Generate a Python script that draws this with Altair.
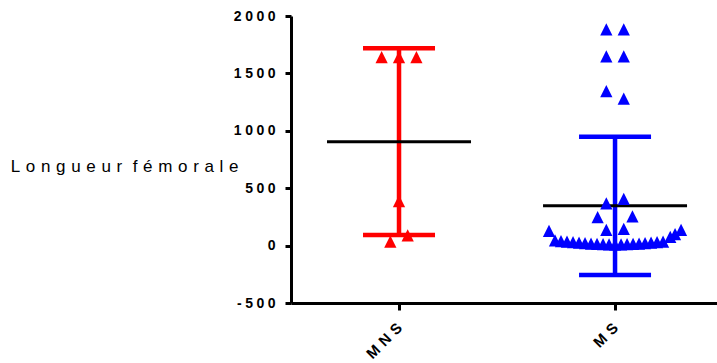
import json

import altair as alt
import pandas as pd

# Groups and their colours
groups = ["MNS", "MS"]
group_colors = ["#ff0000", "#0000ff"]

# Femoral length per subject
mns_values = [1641, 1641, 1641, 387, 34, 90]
ms_values = [
    1884, 1884, 1649, 1649, 1345, 1281,
    406, 368, 249, 255, 136, 146,
    129, 136, 100, 75,
    45, 40, 35, 30, 26, 22, 18, 15, 12, 10,
    8,
    10, 12, 15, 18, 22, 26, 30, 35,
]

# Horizontal swarm offsets of each dot (steps of 1/36 of the gap between columns)
mns_spread = [-2.9, 0, 2.9, 0, -1.45, 1.45]
ms_spread = [
    -1.45, 1.45, -1.45, 1.45, -1.45, 1.45,
    1.45, -1.45, -2.9, 2.9, -1.45, 1.45,
    -11, 11, 10, 9.2,
    -10, -9, -8, -7, -6, -5, -4, -3, -2, -1,
    0,
    1, 2, 3, 4, 5, 6, 7, 8,
]

y_ticks = [-500, 0, 500, 1000, 1500, 2000]
y_title = "Longueur fémorale"

STEP = 1 / 36
FONT = "Liberation Sans"


def spaced(text, gap):
    """Spread the letters of a label apart."""
    return (" " + gap).join(gap.join(word) for word in text.split(" "))


rows = []
for gi, (g, vals, spread) in enumerate(zip(groups, [mns_values, ms_values], [mns_spread, ms_spread])):
    for v, s in zip(vals, spread):
        rows.append({"group": g, "idx": gi, "value": v, "xpos": gi + s * STEP})
df = pd.DataFrame(rows)

y_label_expr = "{}[indexof({}, datum.value)]".format(
    json.dumps([spaced(str(v), "\u2005") for v in y_ticks], ensure_ascii=False), json.dumps(y_ticks)
)
x_label_expr = "{}[datum.value]".format(
    json.dumps([spaced(g, "\u2004") for g in groups], ensure_ascii=False)
)

x_scale = alt.Scale(domain=[-0.5, 1.472], nice=False, zero=False)
y_scale = alt.Scale(domain=[-500, 2000], nice=False, zero=False)

x_axis = alt.Axis(
    values=[0, 1], labelExpr=x_label_expr, title=None, grid=False,
    domainColor="black", domainWidth=3, tickColor="black", tickWidth=3, tickSize=7,
    labelAngle=315, labelAlign="right", labelBaseline="middle", labelPadding=15,
    labelFont=FONT, labelFontSize=15, labelFontWeight="bold", labelColor="black",
)
y_axis = alt.Axis(
    values=y_ticks, labelExpr=y_label_expr, title=spaced(y_title, "\u2004"), grid=False,
    domainColor="black", domainWidth=3, tickColor="black", tickWidth=3, tickSize=6,
    labelFont=FONT, labelFontSize=14, labelFontWeight="bold", labelColor="black",
    labelPadding=10,
    titleAngle=0, titleAlign="right", titleBaseline="alphabetic", titleX=-53, titleY=155,
    titleFont=FONT, titleFontSize=17, titleFontWeight="normal", titleColor="black",
)

color = alt.Color("group:N", scale=alt.Scale(domain=groups, range=group_colors), legend=None)

base = alt.Chart(df)
stats = base.transform_aggregate(
    mean="mean(value)", sd="stdev(value)", groupby=["group", "idx"]
).transform_calculate(lo="datum.mean - datum.sd", hi="datum.mean + datum.sd")

x_idx = alt.X("idx:Q", scale=x_scale, axis=x_axis)

# Error bars: mean ± SD
bar = stats.mark_rule(strokeWidth=4.5, opacity=1).encode(
    x=x_idx, y=alt.Y("lo:Q", scale=y_scale, axis=y_axis), y2="hi:Q", color=color
)
cap_hi = stats.mark_tick(orient="horizontal", size=72, thickness=4.5, opacity=1).encode(
    x=x_idx, y=alt.Y("hi:Q", scale=y_scale, axis=y_axis), color=color
)
cap_lo = stats.mark_tick(orient="horizontal", size=72, thickness=4.5, opacity=1).encode(
    x=x_idx, y=alt.Y("lo:Q", scale=y_scale, axis=y_axis), color=color
)
# Mean line
mean_line = stats.mark_tick(
    orient="horizontal", size=144, thickness=3, color="black", opacity=1
).encode(x=x_idx, y=alt.Y("mean:Q", scale=y_scale, axis=y_axis))
# Individual subjects
points = base.mark_point(
    shape="M0,-1L1,1L-1,1Z", filled=True, size=150, opacity=1, strokeWidth=0
).encode(
    x=alt.X("xpos:Q", scale=x_scale, axis=x_axis),
    y=alt.Y("value:Q", scale=y_scale, axis=y_axis),
    color=color,
)

chart = (
    alt.layer(bar, cap_hi, cap_lo, mean_line, points)
    .properties(
        width=426, height=287,
        autosize=alt.AutoSizeParams(type="none"),
        padding={"left": 291, "top": 16, "right": 0, "bottom": 60},
        background="white",
    )
    .configure_view(stroke=None)
)

chart.save("out.html", embed_options={"renderer": "svg", "actions": False})
